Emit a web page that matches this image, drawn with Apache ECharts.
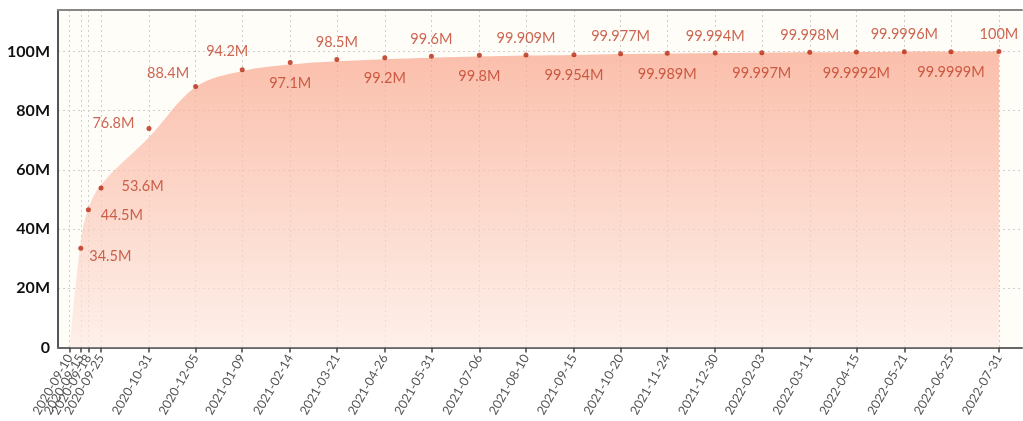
<!DOCTYPE html>
<html>
<head>
<meta charset="utf-8">
<script src="https://cdn.jsdelivr.net/npm/echarts@6/dist/echarts.min.js"></script>
<style>
html,body{margin:0;padding:0;background:#ffffff;}
#chart{width:1023px;height:421px;}
</style>
</head>
<body>
<div id="chart"></div>
<script>
// Tick / category labels (dates) and their positions on the x axis (days, 0 = 2020-09-25)
const dates = ['2020-09-10','2020-09-15','2020-09-18','2020-09-25','2020-10-31','2020-12-05','2021-01-09','2021-02-14','2021-03-21','2021-04-26','2021-05-31','2021-07-06','2021-08-10','2021-09-15','2021-10-20','2021-11-24','2021-12-30','2022-02-03','2022-03-11','2022-04-15','2022-05-21','2022-06-25','2022-07-31'];
const xDays = [-23.5,-15.2,-9.5,0,36,71,106,142,177,213,248,284,319,355,390,425,461,496,532,567,603,638,674];
// Filled curve (upper edge of the shaded area), millions
const areaValues = [0,36,47,55,71,88,93.4,95.6,96.7,97.4,97.9,98.3,98.6,98.8,99.1,99.3,99.5,99.6,99.7,99.8,99.9,99.95,100];
// Marked points (from 2020-09-15 onward), millions
const pointValues = [33.5,46.5,53.9,74.0,88.2,93.8,96.3,97.3,97.9,98.4,98.7,98.8,98.9,99.2,99.4,99.5,99.6,99.7,99.8,99.9,99.9,100];
// Text shown next to each marked point
const pointLabels = ['34.5M','44.5M','53.6M','76.8M','88.4M','94.2M','97.1M','98.5M','99.2M','99.6M','99.8M','99.909M','99.954M','99.977M','99.989M','99.994M','99.997M','99.998M','99.9992M','99.9996M','99.9999M','100M'];
const yTicks = [0,20,40,60,80,100];

const M = 1e6;
const X_MIN = -32.3, X_MAX = 691.3;
const areaData = xDays.map((x, i) => [x, areaValues[i] * M]);

function labelStyle(i) {
  if (i === 0) return {position: 'right', distance: 6, offset: [0, 8]};
  if (i === 1) return {position: 'right', distance: 10, offset: [0, 5]};
  if (i === 2) return {position: 'right', distance: 18, offset: [0, -2]};
  if (i === 3) return {position: 'left', distance: 12, offset: [0, -5]};
  if (i === 4) return {position: 'left', distance: 4, offset: [0, -13]};
  if (i === 5) return {position: 'top', distance: 8, offset: [-15, 0]};
  return (i % 2 === 1) ? {position: 'top', distance: 7} : {position: 'bottom', distance: 11};
}
const pointData = pointValues.map((v, i) => ({
  value: [xDays[i + 1], v * M],
  label: Object.assign({show: true, formatter: pointLabels[i]}, labelStyle(i))
}));

const chart = echarts.init(document.getElementById('chart'), null, {renderer: 'canvas'});
chart.setOption({
  animation: false,
  backgroundColor: '#ffffff',
  grid: {left: 58, right: 1, top: 10, bottom: 73.5, show: true, backgroundColor: '#fffdf8', borderWidth: 0},
  xAxis: [{
    type: 'value',
    min: X_MIN,
    max: X_MAX,
    axisLine: {show: true, onZero: false, lineStyle: {color: '#666', width: 2}},
    axisTick: {show: true, customValues: xDays, length: 5, lineStyle: {color: '#444', width: 1.5}},
    axisLabel: {
      customValues: [X_MIN].concat(xDays),
      interval: 0,
      hideOverlap: false,
      rotate: 60,
      margin: 8,
      color: '#555',
      fontFamily: 'Lato',
      fontSize: 12.5,
      formatter: function (v) {
        for (let i = 0; i < xDays.length; i++) {
          if (Math.abs(xDays[i] - v) < 1e-6) return dates[i];
        }
        return '';
      }
    },
    splitLine: {show: true, lineStyle: {color: '#cfcfcf', type: [2, 3], width: 1}}
  }, {
    type: 'value',
    position: 'top',
    min: X_MIN,
    max: X_MAX,
    axisLine: {show: true, onZero: false, lineStyle: {color: '#888', width: 2}},
    axisTick: {show: false},
    axisLabel: {show: false},
    splitLine: {show: false}
  }],
  yAxis: {
    type: 'value',
    min: 0,
    max: 114 * M,
    interval: 20 * M,
    axisLine: {show: true, onZero: false, lineStyle: {color: '#555', width: 2}},
    axisTick: {show: false},
    axisLabel: {
      showMaxLabel: false,
      color: '#111',
      fontFamily: 'Lato',
      fontWeight: 'bold',
      fontSize: 16,
      margin: 8,
      formatter: function (v) {
        const m = Math.round(v / M);
        return yTicks.indexOf(m) >= 0 ? (m === 0 ? '0' : m + 'M') : '';
      }
    },
    splitLine: {show: true, lineStyle: {color: '#cfcfcf', type: [2, 3], width: 1}}
  },
  series: [{
    type: 'line',
    data: areaData,
    smooth: 0.35,
    showSymbol: false,
    silent: true,
    lineStyle: {width: 0},
    areaStyle: {
      color: new echarts.graphic.LinearGradient(0, 0, 0, 1, [
        {offset: 0, color: 'rgba(249,164,138,1)'},
        {offset: 1, color: 'rgba(253,234,227,1)'}
      ])
    },
    z: 2
  }, {
    type: 'scatter',
    data: pointData,
    symbolSize: 5,
    itemStyle: {color: '#b8280f'},
    label: {color: '#bf3f27', fontFamily: 'Lato', fontSize: 14.5},
    z: 3
  }]
});
</script>
</body>
</html>
